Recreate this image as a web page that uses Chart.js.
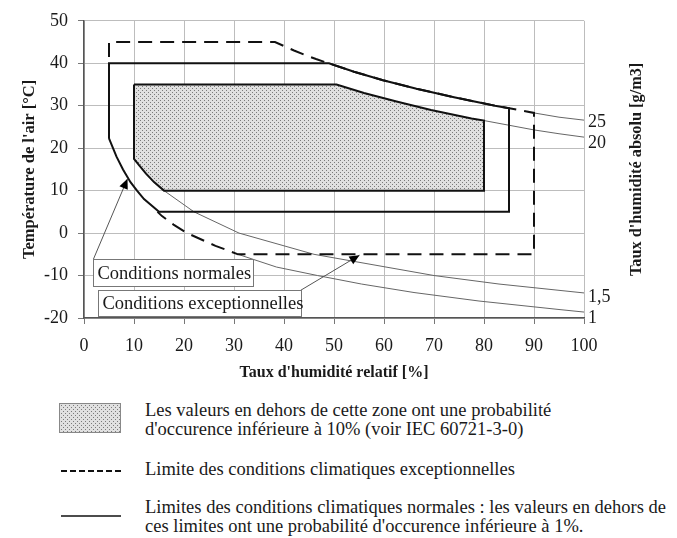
<!DOCTYPE html>
<html>
<head>
<meta charset="utf-8">
<script src="https://cdn.jsdelivr.net/npm/chart.js@4.4.0/dist/chart.umd.min.js"></script>
<style>
  html, body { margin: 0; padding: 0; background: #fff; }
  body { width: 677px; height: 538px; position: relative; overflow: hidden; font-family: "Liberation Serif", "Times New Roman", serif; color: #1a1a1a; }
  #chartBox { position: absolute; left: 0; top: 0; width: 677px; height: 390px; }
  .lg { position: absolute; font-size: 18.5px; line-height: 19px; white-space: nowrap; }
</style>
</head>
<body>
<div id="chartBox"><canvas id="c" width="677" height="390"></canvas></div>

<canvas id="lgBox" width="62" height="30" style="position:absolute;left:59px;top:403px;"></canvas>
<div class="lg" style="left:145px;top:401px;">Les valeurs en dehors de cette zone ont une probabilité<br>d'occurence inférieure à 10% (voir IEC 60721-3-0)</div>
<svg style="position:absolute;left:59px;top:466px;" width="64" height="10"><line x1="2" y1="5" x2="62" y2="5" stroke="#111" stroke-width="2" stroke-dasharray="6,3"/></svg>
<div class="lg" style="left:145px;top:460px;">Limite des conditions climatiques exceptionnelles</div>
<svg style="position:absolute;left:59px;top:511px;" width="64" height="10"><line x1="2" y1="5" x2="62" y2="5" stroke="#111" stroke-width="1.5"/></svg>
<div class="lg" style="left:145px;top:498px;">Limites des conditions climatiques normales : les valeurs en dehors de<br>ces limites ont une probabilité d'occurence inférieure à 1%.</div>

<script>
// ---------- DATA ----------
// Normal climatic conditions boundary (solid)
const rhNormal = [5, 5, 49, 54, 59.8, 66.5, 74, 82.2, 85, 85, 15, 12, 10.6, 9.3, 7.8, 6.5, 5.8, 5];
const tNormal  = [22.3, 40, 40, 38, 36, 34, 32, 30, 29.4, 5, 5, 8, 10, 12, 15, 18, 20, 22.3];

// Exceptional climatic conditions boundary (dashed)
const rhExcept = [5, 5, 38.2, 42, 44.1, 46.4, 48.9, 54, 59.8, 66.5, 74, 82.2, 87, 90, 90, 30.8, 26.3, 20.6, 17.9, 15.6, 14.7];
const tExcept  = [41.5, 45, 45, 43, 42, 41, 40, 38, 36, 34, 32, 30, 29, 28.3, -5, -5, -3, 0, 2, 4, 5];

// Zone with 10 % probability (stippled)
const rhZone = [10, 50.5, 56, 62.5, 69.4, 77.5, 80, 80, 16, 14, 12.4, 11, 10, 10];
const tZone  = [35, 35, 33, 31, 29, 27, 26.5, 10, 10, 12, 14, 16, 17.5, 35];

// Absolute humidity curves (thin), labels in g/m3
const absLabels = ['25', '20', '1,5', '1'];
const rhAbs25 = [90, 95, 100];
const tAbs25  = [28.3, 27.3, 26.6];
const rhAbs20 = [80, 85, 90, 95, 100];
const tAbs20  = [26.5, 25.4, 24.3, 23.4, 22.6];
const rhAbs15 = [16, 22, 31, 46, 70, 83, 100];
const tAbs15  = [10, 5, 0, -5, -10, -12, -14.1];
const rhAbs1  = [30.8, 38.5, 46.7, 55.5, 66, 79, 95, 100];
const tAbs1   = [-5, -8, -10, -12, -14, -16, -18, -18.6];

const xTicks = [0, 10, 20, 30, 40, 50, 60, 70, 80, 90, 100];
const yTicks = [-20, -10, 0, 10, 20, 30, 40, 50];

// Callout annotations (data coordinates)
const calloutTexts = ['Conditions normales', 'Conditions exceptionnelles'];
const calloutBoxRH = [[1.7, 33.9], [2.7, 43.3]];
const calloutBoxT  = [[-6.1, -12.4], [-13.5, -19.5]];
const arrowFromRH = [1.9, 43.3], arrowFromT = [-6.1, -13.5];
const arrowToRH   = [8.7, 55.1], arrowToT   = [12.8, -5.2];

// ---------- helpers ----------
const pts = (xs, ys) => xs.map((x, i) => ({x: x, y: ys[i]}));
const SERIF = '"Liberation Serif", "Times New Roman", serif';

function makePatternCanvas() {
  const c = document.createElement('canvas');
  c.width = 4; c.height = 4;
  const g = c.getContext('2d');
  g.fillStyle = '#e0e0e0'; g.fillRect(0, 0, 4, 4);
  g.fillStyle = '#7a7a7a';
  g.fillRect(0, 0, 1, 1); g.fillRect(2, 2, 1, 1);
  return c;
}
const patCanvas = makePatternCanvas();
const ctx = document.getElementById('c').getContext('2d');
const stipple = ctx.createPattern(patCanvas, 'repeat');

// legend swatch
(function () {
  const lc = document.getElementById('lgBox').getContext('2d');
  lc.fillStyle = lc.createPattern(patCanvas, 'repeat');
  lc.fillRect(0, 0, 62, 30);
  lc.strokeStyle = '#888'; lc.lineWidth = 1;
  lc.strokeRect(0.5, 0.5, 61, 29);
})();

const endLabelOffsets = [2, 6, 4, 6];

const overlayPlugin = {
  id: 'overlay',
  afterDatasetsDraw(chart) {
    const c = chart.ctx, xs = chart.scales.x, ys = chart.scales.y, area = chart.chartArea;
    c.save();
    // end labels of absolute humidity curves
    c.font = '18px ' + SERIF;
    c.fillStyle = '#1a1a1a';
    c.textAlign = 'left'; c.textBaseline = 'middle';
    const ends = [[rhAbs25, tAbs25], [rhAbs20, tAbs20], [rhAbs15, tAbs15], [rhAbs1, tAbs1]];
    ends.forEach((e, i) => {
      const ly = ys.getPixelForValue(e[1][e[1].length - 1]) + endLabelOffsets[i];
      c.fillText(absLabels[i], area.right + 4, ly);
    });
    // right axis title
    c.save();
    c.translate(637, (area.top + area.bottom) / 2);
    c.rotate(-Math.PI / 2);
    c.font = 'bold 16.3px ' + SERIF;
    c.textAlign = 'center'; c.textBaseline = 'middle';
    c.fillText("Taux d'humidité absolu [g/m3]", 0, 0);
    c.restore();
    // callouts: arrows
    c.strokeStyle = '#555'; c.fillStyle = '#000'; c.lineWidth = 1;
    for (let i = 0; i < 2; i++) {
      const x0 = xs.getPixelForValue(arrowFromRH[i]), y0 = ys.getPixelForValue(arrowFromT[i]);
      const x1 = xs.getPixelForValue(arrowToRH[i]), y1 = ys.getPixelForValue(arrowToT[i]);
      c.beginPath(); c.moveTo(x0, y0); c.lineTo(x1, y1); c.stroke();
      const ang = Math.atan2(y1 - y0, x1 - x0), L = 10, W = 4.5;
      c.beginPath();
      c.moveTo(x1, y1);
      c.lineTo(x1 - L * Math.cos(ang) + W * Math.sin(ang), y1 - L * Math.sin(ang) - W * Math.cos(ang));
      c.lineTo(x1 - L * Math.cos(ang) - W * Math.sin(ang), y1 - L * Math.sin(ang) + W * Math.cos(ang));
      c.closePath(); c.fill();
    }
    // callouts: boxes
    c.font = '18.5px ' + SERIF;
    c.textAlign = 'left'; c.textBaseline = 'middle';
    for (let i = 0; i < 2; i++) {
      const bx0 = Math.round(xs.getPixelForValue(calloutBoxRH[i][0])) + 0.5;
      const bx1 = Math.round(xs.getPixelForValue(calloutBoxRH[i][1])) + 0.5;
      const by0 = Math.round(ys.getPixelForValue(calloutBoxT[i][0])) + 0.5;
      const by1 = Math.round(ys.getPixelForValue(calloutBoxT[i][1])) + 0.5;
      c.fillStyle = '#fff';
      c.fillRect(bx0, by0, bx1 - bx0, by1 - by0);
      c.strokeStyle = '#777'; c.lineWidth = 1;
      c.strokeRect(bx0, by0, bx1 - bx0, by1 - by0);
      c.fillStyle = '#1a1a1a';
      c.fillText(calloutTexts[i], bx0 + 4, (by0 + by1) / 2 + 1);
    }
    c.restore();
  }
};

new Chart(ctx, {
  type: 'scatter',
  data: {
    datasets: [
      { label: 'normal', data: pts(rhNormal, tNormal), showLine: true, borderColor: '#111', borderWidth: 2, pointRadius: 0, fill: false, order: 1 },
      { label: 'except', data: pts(rhExcept, tExcept), showLine: true, borderColor: '#111', borderWidth: 2, borderDash: [14, 8], pointRadius: 0, fill: false, order: 2 },
      { label: 'zone10', data: pts(rhZone, tZone), showLine: true, borderColor: '#111', borderWidth: 2, backgroundColor: stipple, pointRadius: 0, fill: 'shape', order: 3 },
      { label: 'abs25', data: pts(rhAbs25, tAbs25), showLine: true, borderColor: '#666', borderWidth: 1, pointRadius: 0, fill: false, order: 4 },
      { label: 'abs20', data: pts(rhAbs20, tAbs20), showLine: true, borderColor: '#666', borderWidth: 1, pointRadius: 0, fill: false, order: 4 },
      { label: 'abs15', data: pts(rhAbs15, tAbs15), showLine: true, borderColor: '#666', borderWidth: 1, pointRadius: 0, fill: false, order: 4 },
      { label: 'abs1', data: pts(rhAbs1, tAbs1), showLine: true, borderColor: '#666', borderWidth: 1, pointRadius: 0, fill: false, order: 4 }
    ]
  },
  options: {
    responsive: false,
    animation: false,
    layout: { padding: { left: 0, right: 93, top: 15, bottom: 0 } },
    plugins: { legend: { display: false }, tooltip: { enabled: false } },
    scales: {
      x: {
        type: 'linear', min: 0, max: 100,
        afterBuildTicks(s) { s.ticks = xTicks.map(v => ({value: v})); },
        afterFit(s) { s.height = 72; },
        grid: { color: '#bdbdbd', lineWidth: 1, tickLength: 6, tickColor: '#777' },
        border: { color: '#555', width: 1.5 },
        ticks: { color: '#1a1a1a', font: { family: SERIF, size: 18 }, padding: 11, maxRotation: 0 },
        title: { display: true, text: "Taux d'humidité relatif [%]", color: '#1a1a1a', font: { family: SERIF, size: 16, weight: 'bold' }, padding: { top: 0, bottom: 8 } }
      },
      y: {
        type: 'linear', min: -20, max: 50,
        afterBuildTicks(s) { s.ticks = yTicks.map(v => ({value: v})); },
        afterFit(s) { s.width = 84; },
        grid: { color: '#bdbdbd', lineWidth: 1, tickLength: 6, tickColor: '#777' },
        border: { color: '#555', width: 1.5 },
        ticks: { color: '#1a1a1a', font: { family: SERIF, size: 18 }, padding: 10 },
        title: { display: true, text: "Température de l'air [°C]", color: '#1a1a1a', font: { family: SERIF, size: 16.5, weight: 'bold' }, padding: { top: 20, bottom: 0 } }
      }
    }
  },
  plugins: [overlayPlugin]
});
</script>
</body>
</html>
